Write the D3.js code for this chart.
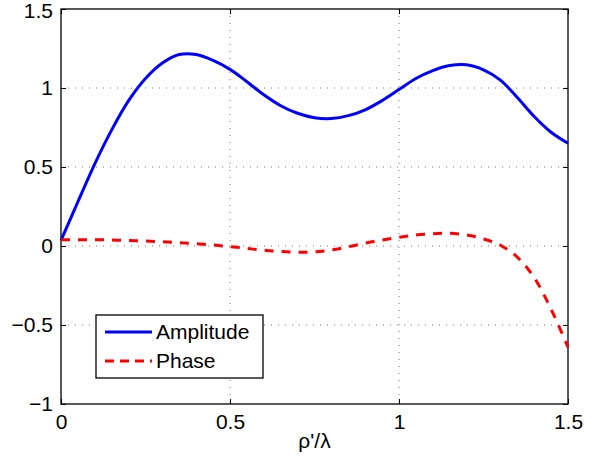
<!DOCTYPE html>
<html>
<head>
<meta charset="utf-8">
<script src="https://cdn.jsdelivr.net/npm/d3@7"></script>
<style>
  body { margin: 0; background: #fff; }
  text { font-family: "Liberation Sans", Arial, Helvetica, sans-serif; }
</style>
</head>
<body>
<div id="chart"></div>
<script>
var svgWidth = 605;
var svgHeight = 466;

// data
var xValues = [0, 0.05, 0.1, 0.15, 0.2, 0.25, 0.3, 0.35, 0.4, 0.45, 0.5, 0.55, 0.6, 0.65, 0.7, 0.75, 0.8, 0.85, 0.9, 0.95, 1.0, 1.05, 1.1, 1.15, 1.2, 1.25, 1.3, 1.35, 1.4, 1.45, 1.5];
var amplitude = [0.035, 0.28, 0.52, 0.735, 0.92, 1.06, 1.158, 1.212, 1.212, 1.175, 1.118, 1.04, 0.957, 0.888, 0.84, 0.812, 0.807, 0.825, 0.862, 0.92, 0.99, 1.06, 1.11, 1.142, 1.147, 1.115, 1.05, 0.94, 0.82, 0.72, 0.65];
var phase = [0.04, 0.04, 0.04, 0.038, 0.035, 0.031, 0.027, 0.021, 0.014, 0.006, -0.004, -0.015, -0.027, -0.035, -0.039, -0.037, -0.025, -0.005, 0.018, 0.038, 0.055, 0.07, 0.078, 0.08, 0.07, 0.045, 0.005, -0.07, -0.2, -0.4, -0.64];

var xTicks = [0, 0.5, 1, 1.5];
var yTicks = [-1, -0.5, 0, 0.5, 1, 1.5];
var seriesNames = ["Amplitude", "Phase"];

var margin = {left: 61, top: 9, right: 37, bottom: 62};
var w = svgWidth - margin.left - margin.right;
var h = svgHeight - margin.top - margin.bottom;

var svg = d3.select("#chart")
  .append("svg")
  .attr("width", svgWidth)
  .attr("height", svgHeight);

var g = svg.append("g")
  .attr("transform", "translate(" + margin.left + "," + margin.top + ")");

var xScale = d3.scaleLinear().domain([0, 1.5]).range([0, w]);
var yScale = d3.scaleLinear().domain([-1, 1.5]).range([h, 0]);

// grid lines (dotted)
g.selectAll(".xgrid")
  .data(xTicks.slice(1, -1))
  .enter().append("line")
  .attr("x1", d => xScale(d)).attr("x2", d => xScale(d))
  .attr("y1", 0).attr("y2", h)
  .attr("stroke", "#777").attr("stroke-width", 1)
  .attr("stroke-dasharray", "1,6");

g.selectAll(".ygrid")
  .data(yTicks.slice(1, -1))
  .enter().append("line")
  .attr("y1", d => yScale(d)).attr("y2", d => yScale(d))
  .attr("x1", 0).attr("x2", w)
  .attr("stroke", "#777").attr("stroke-width", 1)
  .attr("stroke-dasharray", "1,6");

// axes with inward ticks on all sides
var fmt = d => d < 0 ? "\u2212" + Math.abs(d) : String(d);
var xBottom = g.append("g").attr("transform", "translate(0," + h + ")")
  .call(d3.axisBottom(xScale).tickValues(xTicks).tickSizeInner(-5).tickSizeOuter(0).tickPadding(10).tickFormat(fmt));
var xTop = g.append("g")
  .call(d3.axisTop(xScale).tickValues(xTicks).tickSizeInner(-5).tickSizeOuter(0).tickFormat(""));
var yLeft = g.append("g")
  .call(d3.axisLeft(yScale).tickValues(yTicks).tickSizeInner(-5).tickSizeOuter(0).tickPadding(8).tickFormat(fmt));
var yRight = g.append("g").attr("transform", "translate(" + w + ",0)")
  .call(d3.axisRight(yScale).tickValues(yTicks).tickSizeInner(-5).tickSizeOuter(0).tickFormat(""));

[xBottom, xTop, yLeft, yRight].forEach(function(ax) {
  ax.select(".domain").remove();
  ax.selectAll("line").attr("stroke", "#000");
  ax.selectAll("text").attr("fill", "#000").style("font-size", "21px");
});
// keep the top label inside the page
yLeft.selectAll(".tick text").filter(d => d === 1.5).attr("y", 2);

g.append("rect")
  .attr("width", w).attr("height", h)
  .attr("fill", "none").attr("stroke", "#000").attr("stroke-width", 1.3);

// lines
var lineGen = d3.line()
  .x((d, i) => xScale(xValues[i]))
  .y(d => yScale(d))
  .curve(d3.curveCatmullRom);

g.append("path")
  .attr("fill", "none")
  .attr("stroke", "#0000ff")
  .attr("stroke-width", 3)
  .attr("d", lineGen(amplitude));

g.append("path")
  .attr("fill", "none")
  .attr("stroke", "#ff0000")
  .attr("stroke-width", 3)
  .attr("stroke-dasharray", "9,8")
  .attr("d", lineGen(phase));

// x label
svg.append("text")
  .attr("x", margin.left + w / 2)
  .attr("y", 448)
  .attr("text-anchor", "middle")
  .style("font-size", "21px")
  .text("\u03c1'/\u03bb");

// legend
var legend = svg.append("g").attr("transform", "translate(96,315)");
legend.append("rect")
  .attr("width", 167).attr("height", 63)
  .attr("fill", "#fff").attr("stroke", "#000").attr("stroke-width", 1.3);

var legendStyles = [{color: "#0000ff", dash: null}, {color: "#ff0000", dash: "9,6"}];
seriesNames.forEach(function(name, i) {
  var ly = 17 + i * 29;
  legend.append("line")
    .attr("x1", 9).attr("x2", 56)
    .attr("y1", ly).attr("y2", ly)
    .attr("stroke", legendStyles[i].color)
    .attr("stroke-width", 3)
    .attr("stroke-dasharray", legendStyles[i].dash);
  legend.append("text")
    .attr("x", 60).attr("y", ly + 7)
    .style("font-size", "21px")
    .text(name);
});
</script>
</body>
</html>
